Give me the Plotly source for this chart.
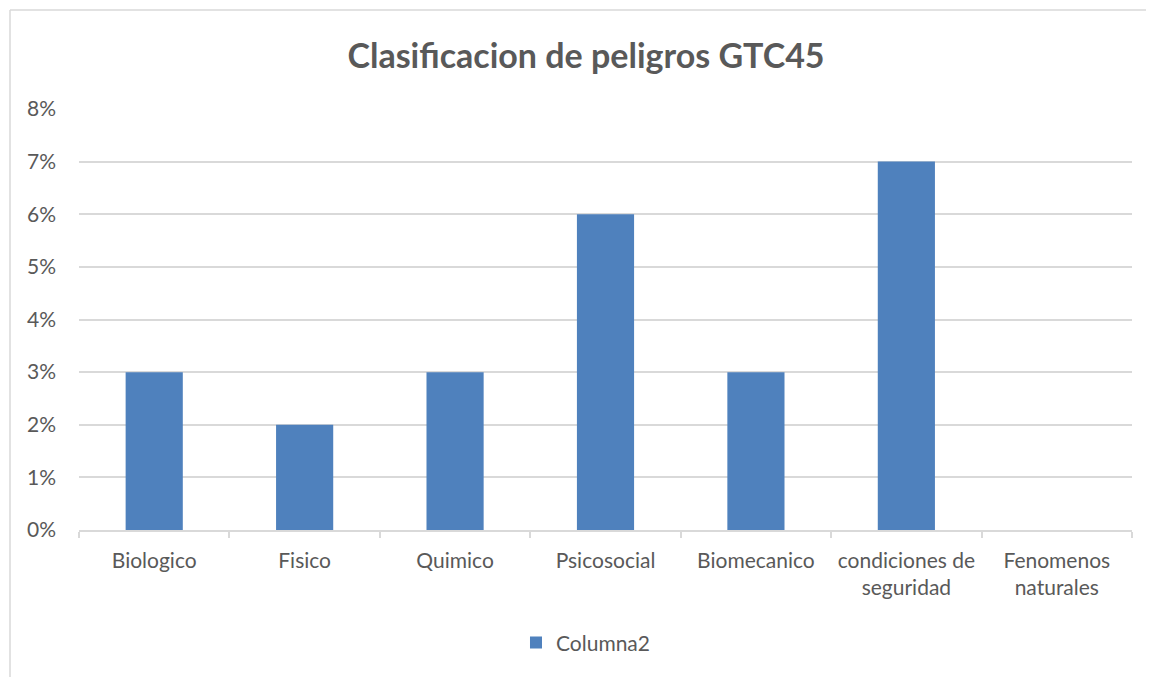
import plotly.graph_objects as go

categories = ["Biologico", "Fisico", "Quimico", "Psicosocial", "Biomecanico",
              "condiciones de seguridad", "Fenomenos naturales"]
tick_labels = ["Biologico", "Fisico", "Quimico", "Psicosocial", "Biomecanico",
               "condiciones de<br>seguridad", "Fenomenos<br>naturales"]
values = [0.03, 0.02, 0.03, 0.06, 0.03, 0.07, 0.0]
y_ticks = [0, 0.01, 0.02, 0.03, 0.04, 0.05, 0.06, 0.07, 0.08]
series_name = "Columna2"
title_text = "Clasificacion de peligros GTC45"

FONT = "Lato, 'Open Sans', sans-serif"
TXT = "#595959"
GRID = "#D9D9D9"

W, H = 1146, 669
L, R, T, B = 71, 22, 101, 147
PW, PH = W - L - R, H - T - B

fig = go.Figure()
fig.add_trace(go.Bar(x=categories, y=values, name=series_name,
                     marker=dict(color="#4F81BD", line=dict(width=0)),
                     showlegend=True))

bx = (2 - L) / PW
by = 1 + (T - 2) / PH

fig.update_layout(
    width=W, height=H,
    paper_bgcolor="white", plot_bgcolor="white",
    margin=dict(l=L, r=R, t=T, b=B, autoexpand=False),
    bargap=0.62,
    title=dict(text="<b>" + title_text + "</b>", x=0.4815, xanchor="center",
               y=1 - 48 / H, yanchor="middle", xref="paper",
               font=dict(family=FONT, size=34, color=TXT)),
    font=dict(family=FONT, size=21, color=TXT),
    showlegend=True,
    legend=dict(orientation="h", x=0.481, xanchor="center", y=-0.268, yanchor="middle",
                font=dict(family=FONT, size=21, color=TXT), itemwidth=30),
    shapes=[
        dict(type="line", xref="paper", yref="paper", x0=bx, x1=1.2, y0=by, y1=by,
             line=dict(color=GRID, width=1.5)),
        dict(type="line", xref="paper", yref="paper", x0=bx, x1=bx, y0=-0.6, y1=by,
             line=dict(color=GRID, width=1.5)),
    ],
)
fig.update_xaxes(
    tickmode="array", tickvals=categories, ticktext=tick_labels,
    showline=True, linecolor=GRID, linewidth=1.5,
    ticks="outside", tickson="boundaries", ticklen=6, tickcolor=GRID, tickwidth=1.5,
    ticklabelstandoff=11,
    showgrid=False, tickfont=dict(family=FONT, size=21, color=TXT),
)
fig.update_yaxes(
    range=[0, 0.08], tickvals=y_ticks, tickformat=".0%",
    showgrid=True, gridcolor=GRID, gridwidth=1.5, zeroline=False,
    showline=False, ticks="", ticklabelstandoff=22,
    tickfont=dict(family=FONT, size=21, color=TXT),
)

fig.write_html("out.html")
